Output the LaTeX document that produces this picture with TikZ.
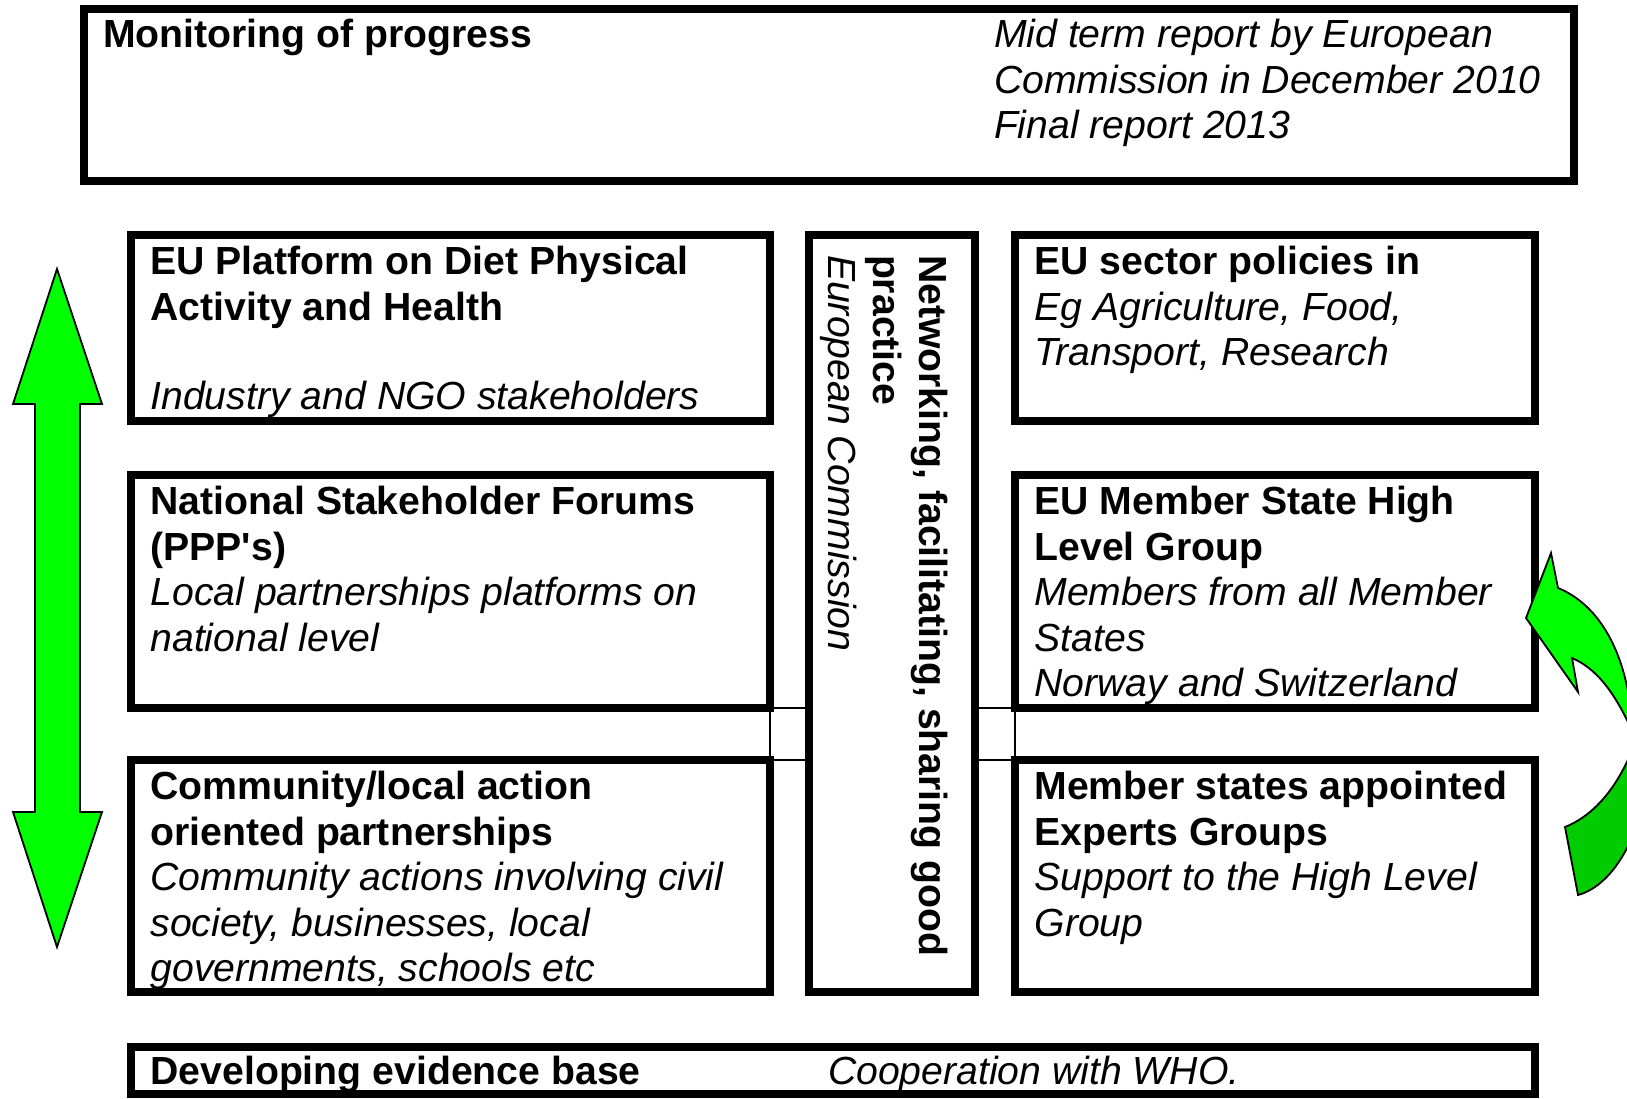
\documentclass[tikz,border=0pt]{standalone}
\usepackage{fontspec}
\setmainfont{Liberation Sans}[Ligatures=TeXOff]
\definecolor{arrowgreen}{RGB}{0,255,0}
\definecolor{arrowdark}{RGB}{0,204,0}
\newcommand{\lineB}[1]{{\bfseries\strut #1}}
\newcommand{\lineI}[1]{{\itshape\strut #1}}
\begin{document}
\begin{tikzpicture}[x=1pt,y=-1pt,
  box/.style={draw=black, line width=7.5pt, inner sep=0pt, outer sep=0pt, anchor=north west},
  txt/.style={inner sep=0pt, outer sep=0pt, align=left, anchor=north west, font=\fontsize{39.2}{45.5}\selectfont},
  thinline/.style={line width=1.3pt},
  garrow/.style={draw=black, line width=1.8pt, fill=arrowgreen, line join=miter},
  darrow/.style={draw=black, line width=1.8pt, fill=arrowdark, line join=miter}]
\useasboundingbox (0,0) rectangle (1627,1098);

% top box
\node[box, minimum width=1490pt, minimum height=172pt] (T) at (84,9) {};
\node[txt] (Tl) at ([xshift=19pt,yshift=-7pt]T.north west) {\lineB{Monitoring of progress}};
\node[txt] (Tr) at ([xshift=910pt,yshift=-7pt]T.north west) {\lineI{Mid term report by European}\\\lineI{Commission in December 2010}\\\lineI{Final report 2013}};

% left column
\node[box, minimum width=639pt, minimum height=186pt] (L1) at (131,235) {};
\node[box, minimum width=639pt, minimum height=233pt] (L2) at (131,475) {};
\node[box, minimum width=639pt, minimum height=232pt] (L3) at (131,760) {};
% middle
\node[box, minimum width=166pt, minimum height=757pt] (M) at (809,235) {};
% right column
\node[box, minimum width=520pt, minimum height=186pt] (R1) at (1015,235) {};
\node[box, minimum width=520pt, minimum height=233pt] (R2) at (1015,475) {};
\node[box, minimum width=520pt, minimum height=232pt] (R3) at (1015,760) {};
% bottom
\node[box, minimum width=1404pt, minimum height=47pt] (B) at (131,1047) {};

% texts
\node[txt] (L1t) at ([xshift=19.5pt,yshift=-8pt]L1.north west) {\lineB{EU Platform on Diet Physical}\\\lineB{Activity and Health}\\[44pt]\lineI{Industry and NGO stakeholders}};
\node[txt] (L2t) at ([xshift=19.5pt,yshift=-8pt]L2.north west) {\lineB{National Stakeholder Forums}\\\lineB{(PPP's)}\\\lineI{Local partnerships platforms on}\\\lineI{national level}};
\node[txt] (L3t) at ([xshift=19.5pt,yshift=-8pt]L3.north west) {\lineB{Community/local action}\\\lineB{oriented partnerships}\\\lineI{Community actions involving civil}\\\lineI{society, businesses, local}\\\lineI{governments, schools etc}};
\node[txt] (R1t) at ([xshift=19.5pt,yshift=-8pt]R1.north west) {\lineB{EU sector policies in}\\\lineI{Eg Agriculture, Food,}\\\lineI{Transport, Research}};
\node[txt] (R2t) at ([xshift=19.5pt,yshift=-8pt]R2.north west) {\lineB{EU Member State High}\\\lineB{Level Group}\\\lineI{Members from all Member}\\\lineI{States}\\\lineI{Norway and Switzerland}};
\node[txt] (R3t) at ([xshift=19.5pt,yshift=-8pt]R3.north west) {\lineB{Member states appointed}\\\lineB{Experts Groups}\\\lineI{Support to the High Level}\\\lineI{Group}};
\node[txt, rotate=-90] (Mt) at ([xshift=-24pt,yshift=-20pt]M.north east) {\lineB{Networking, facilitating, sharing good}\\\lineB{practice}\\\lineI{European Commission}};
\node[txt] (Bt1) at ([xshift=19.5pt,yshift=-6pt]B.north west) {\lineB{Developing evidence base}};
\node[txt] (Bt2) at ([xshift=697pt,yshift=-6pt]B.north west) {\lineI{Cooperation with WHO.}};

% thin connectors
\draw[thinline] (L2.south east) -- (L2.south east -| M.west);
\draw[thinline] (L3.north east) -- (L3.north east -| M.west);
\draw[thinline] (L2.south east) -- (L3.north east);
\draw[thinline] (R2.south west) -- (R2.south west -| M.east);
\draw[thinline] (R3.north west) -- (R3.north west -| M.east);
\draw[thinline] (R2.south west) -- (R3.north west);

% left double arrow
\draw[garrow] (57,269) -- (102,404) -- (80,404) -- (80,812) -- (102,812) -- (57,947)
  -- (13,812) -- (35,812) -- (35,404) -- (13,404) -- cycle;

% curved arrow (clipped at the right edge)
\begin{scope}
\clip (0,0) rectangle (1627,1098);
\draw[darrow] (1565,827) .. controls (1595,815) and (1620,785) .. (1636,740)
  -- (1650,760) .. controls (1645,830) and (1615,885) .. (1578,895) -- cycle;
\draw[garrow] (1526,618) -- (1551,553) -- (1558,588)
  .. controls (1600,605) and (1628,655) .. (1632,725) -- (1636,740)
  .. controls (1615,690) and (1595,668) .. (1572,658) -- (1578,692) -- cycle;
\end{scope}
\end{tikzpicture}
\end{document}
